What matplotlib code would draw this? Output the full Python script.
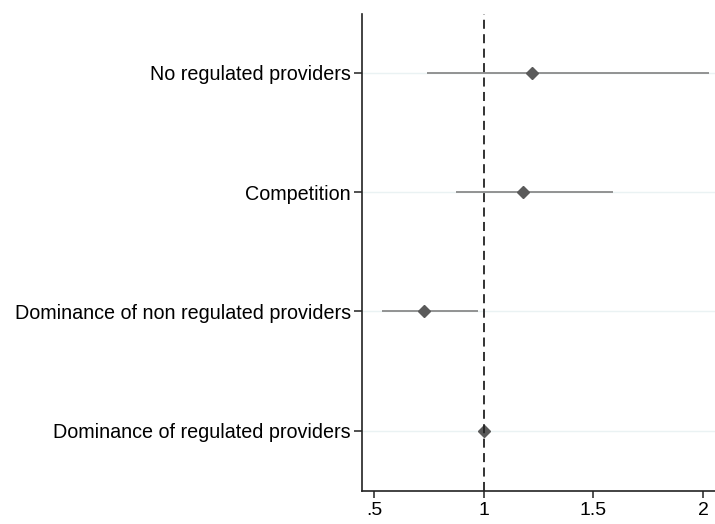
import numpy as np
import matplotlib
matplotlib.use('Agg')
import matplotlib.pyplot as plt

plt.rcParams['font.family'] = ['Liberation Sans', 'DejaVu Sans']

# Odds ratios with confidence intervals (bottom to top)
categories = ['Dominance of regulated providers',
              'Dominance of non regulated providers',
              'Competition',
              'No regulated providers']
estimates = [1.0, 0.727, 1.181, 1.222]
ci_low = [1.0, 0.535, 0.872, 0.743]
ci_high = [1.0, 0.973, 1.588, 2.028]
xticks = [0.5, 1, 1.5, 2]
xtick_labels = ['.5', '1', '1.5', '2']

fig = plt.figure(figsize=(7.15, 5.24), dpi=100)
ax = fig.add_axes([0.506, 0.0636, 0.494, 0.9097])

ypos = np.arange(1, len(categories) + 1)

# faint gridlines at each category
for y in ypos:
    ax.axhline(y, color='#eaf2f3', lw=1, zorder=0)

ax.hlines(ypos, ci_low, ci_high, color='#8a8a8a', lw=1.3, zorder=2)
ax.plot(estimates, ypos, 'D', color='#5a5a5a', ms=6.5, zorder=3)
ax.axvline(1, color='#222222', lw=1.3, ls=(0, (5, 3)), zorder=4)

ax.set_xlim(0.444, 2.055)
ax.set_ylim(0.497, 4.492)
ax.set_yticks(ypos)
ax.set_yticklabels(categories, fontsize=14.2)
ax.set_xticks(xticks)
ax.set_xticklabels(xtick_labels, fontsize=14)

ax.spines['top'].set_visible(False)
ax.spines['right'].set_visible(False)
for s in ['left', 'bottom']:
    ax.spines[s].set_linewidth(1.2)
    ax.spines[s].set_color('#222222')
ax.tick_params(axis='y', length=6, width=1.1, color='#222222', pad=2)
ax.tick_params(axis='x', length=5, width=1.1, color='#222222', pad=3)

fig.savefig('out.png', dpi=100)
